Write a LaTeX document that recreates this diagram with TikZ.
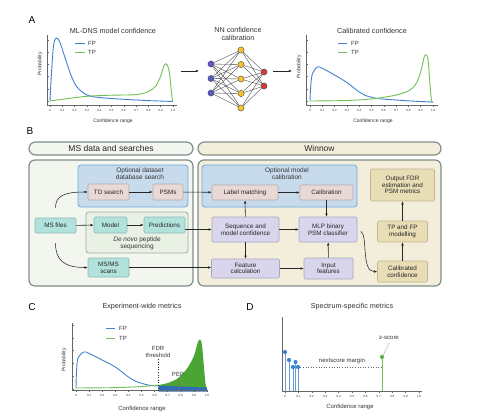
\documentclass[tikz,border=0pt]{standalone}
\usepackage{fontspec}
\setmainfont{Liberation Sans}
\usetikzlibrary{arrows.meta}
\definecolor{fpblue}{HTML}{3F82D0}
\definecolor{tpgreen}{HTML}{72C055}
\definecolor{fillgreen}{HTML}{4AA534}
\definecolor{bandblue}{HTML}{2D6CB8}
\definecolor{txt}{HTML}{333333}
\definecolor{axisc}{HTML}{666666}
\definecolor{contborder}{HTML}{7E8F88}
\definecolor{leftfill}{HTML}{F3F6EF}
\definecolor{rightfill}{HTML}{F3EEDB}
\definecolor{bluefill}{HTML}{C8DBEC}
\definecolor{blueborder}{HTML}{6FA8DC}
\definecolor{greenfill}{HTML}{E9F1E5}
\definecolor{greenborder}{HTML}{9AAE9F}
\definecolor{pinkfill}{HTML}{E8D8D6}
\definecolor{pinkborder}{HTML}{B5ABA9}
\definecolor{tealfill}{HTML}{B2E2DC}
\definecolor{tealborder}{HTML}{8DB9B3}
\definecolor{lavfill}{HTML}{D8D5EC}
\definecolor{lavborder}{HTML}{AAA7C2}
\definecolor{tanfill}{HTML}{E8DDB5}
\definecolor{tanborder}{HTML}{C2B68F}
\definecolor{nnblue}{HTML}{5A57C9}
\definecolor{nnyellow}{HTML}{F3C22E}
\definecolor{nnred}{HTML}{D23A3A}
\definecolor{pepred}{HTML}{B0503A}

\newcommand{\myxticks}[4]{%
\foreach \k/\lab in {0/0,1/0.1,2/0.2,3/0.3,4/0.4,5/0.5,6/0.6,7/0.7,8/0.8,9/0.9,10/1.0}{
  \draw[axisline] ({#1+#2*\k/10},#3) -- ({#1+#2*\k/10},#3+1.5);
  \node[ticklab] (#4\k) at ({#1+#2*\k/10},#3+5) {\lab};
}}

\begin{document}
\begin{tikzpicture}[x=1pt,y=-1pt,
  axisline/.style={draw=axisc, line width=0.6pt},
  ticklab/.style={font=\fontsize{3}{3}\selectfont, text=txt, inner sep=0pt},
  axlab/.style={font=\fontsize{5}{5}\selectfont, text=txt, inner sep=0pt},
  ptitle/.style={font=\fontsize{7.2}{8}\selectfont, text=txt, inner sep=0pt, align=center},
  legtxt/.style={font=\fontsize{6}{6}\selectfont, text=txt, inner sep=0pt, anchor=west},
  panel/.style={font=\fontsize{10}{10}\selectfont, text=black, inner sep=0pt},
  fpline/.style={draw=fpblue, line width=0.9pt},
  tpline/.style={draw=tpgreen, line width=0.9pt},
  arr/.style={-{Latex[length=3.2pt,width=2.6pt]}, line width=0.55pt, draw=black!85},
  basebox/.style={rectangle, rounded corners=1.2pt, line width=0.6pt, align=center,
     font=\fontsize{6.3}{6.6}\selectfont, text=black!85, inner sep=0pt},
  pinkbox/.style={basebox, fill=pinkfill, draw=pinkborder},
  tealbox/.style={basebox, fill=tealfill, draw=tealborder},
  lavbox/.style={basebox, fill=lavfill, draw=lavborder},
  tanbox/.style={basebox, fill=tanfill, draw=tanborder},
  container/.style={rectangle, rounded corners=6pt, line width=1.2pt, draw=contborder, inner sep=0pt},
  subcont/.style={rectangle, rounded corners=3pt, line width=0.8pt, inner sep=0pt},
  header/.style={container, rounded corners=6.5pt, font=\fontsize{8.5}{9}\selectfont, text=black!85},
  nn/.style={circle, minimum size=6.2pt, inner sep=0pt, line width=0.4pt, draw=black!70},
  nnedge/.style={draw=black!75, line width=0.35pt},
  lolli/.style={circle, minimum size=4.2pt, inner sep=0pt}
]
\useasboundingbox (0,0) rectangle (480,418);
\fill[white] (0,0) rectangle (480,418);

% ================= Panel A =================
\node[panel] (pA) at (32,20) {A};

% Plot A1
\node[ptitle] (tA1) at (113,31) {ML-DNS model confidence};
\draw[axisline] (47,35) -- (47,105) -- (177,105);
\foreach \yy in {40,52.2,64.4,76.6,88.8,101} \draw[axisline] (47,\yy) -- (48.5,\yy);
\myxticks{50}{123}{105}{aa}
\node[axlab] (xA1) at (113,121) {Confidence range};
\node[axlab, rotate=90] (yA1) at (40,64) {Probability};
\draw[fpline] plot[smooth, tension=0.55] coordinates {(50,101) (51.2,78) (53.5,46) (56.2,38) (59.8,42) (64.8,57) (70.9,75) (77,87) (86.9,95) (99.2,97.5) (123.8,99.3) (148.4,100.6) (173,101.5)};
\draw[tpline] plot[smooth, tension=0.55] coordinates {(50,101) (62.3,99.3) (86.9,96.3) (111.5,95.2) (136.1,94.6) (148.4,91.5) (155.8,86) (160.7,76) (164.4,65) (166.9,64.5) (169.3,72) (171.2,90) (172.5,101.5)};
\draw[fpline] (75,43) -- (85,43);
\node[legtxt] (lA1fp) at (88,43) {FP};
\draw[tpline] (75,52) -- (85,52);
\node[legtxt] (lA1tp) at (88,52) {TP};

% arrow to NN
\coordinate (a1s) at (181,71);
\coordinate (a1e) at (199,71);
\draw[arr] (a1s) -- (a1e);

% NN
\node[ptitle] (tNN) at (238,34) {NN confidence\\calibration};
\foreach \j/\yy in {1/64,2/78.5,3/93} \node[nn, fill=nnblue] (i\j) at (211,\yy) {};
\foreach \j/\yy in {1/50,2/64.5,3/79,4/93.5,5/108} \node[nn, fill=nnyellow] (h\j) at (241,\yy) {};
\foreach \j/\yy in {1/72,2/86} \node[nn, fill=nnred] (o\j) at (264,\yy) {};
\foreach \a in {1,2,3} \foreach \b in {1,...,5} \draw[nnedge] (i\a) -- (h\b);
\foreach \b in {1,...,5} \foreach \c in {1,2} \draw[nnedge] (h\b) -- (o\c);

\coordinate (a2s) at (273,71);
\coordinate (a2e) at (292,71);
\draw[arr] (a2s) -- (a2e);

% Plot A2
\node[ptitle] (tA2) at (372,31) {Calibrated confidence};
\draw[axisline] (306,35) -- (306,105) -- (438,105);
\foreach \yy in {40,52.2,64.4,76.6,88.8,101} \draw[axisline] (306,\yy) -- (307.5,\yy);
\myxticks{310}{123}{105}{ab}
\node[axlab] (xA2) at (373,121) {Confidence range};
\node[axlab, rotate=90] (yA2) at (299,67) {Probability};
\draw[fpline] plot[smooth, tension=0.55] coordinates {(310,101) (310.6,88) (312.3,74) (317.4,67) (322.3,68.3) (334.6,75) (346.9,82.5) (359.2,92) (365.4,95.5) (377.7,98.5) (396.1,100) (414,101.2) (433,102)};
\draw[tpline] plot[smooth, tension=0.55] coordinates {(310,101) (346.9,100.5) (371.5,99) (383.8,97.3) (396.1,95) (408.4,91) (415.8,84) (420.7,72) (424.2,57) (426.2,55) (428.1,60) (430,85) (431.6,101) (433,102)};
\draw[fpline] (338,43) -- (347,43);
\node[legtxt] (lA2fp) at (351,43) {FP};
\draw[tpline] (338,52) -- (347,52);
\node[legtxt] (lA2tp) at (351,52) {TP};

% ================= Panel B =================
\node[panel] (pB) at (30,131) {B};

\node[header, fill=leftfill, minimum width=164, minimum height=13] (hL) at (111,148.5) {MS data and searches};
\node[header, fill=rightfill, minimum width=243, minimum height=13] (hR) at (319.5,148.5) {Winnow};
\node[container, fill=leftfill, minimum width=164, minimum height=126] (cL) at (111,223) {};
\node[container, fill=rightfill, minimum width=243, minimum height=126] (cR) at (319.5,223) {};

\node[subcont, fill=bluefill, draw=blueborder, minimum width=110, minimum height=42] (sb1) at (133,186) {};
\node[ptitle, font=\fontsize{6.5}{7}\selectfont] (sb1t) at (140,174) {Optional dataset\\database search};
\node[subcont, fill=greenfill, draw=greenborder, minimum width=102, minimum height=41] (sg) at (137,232.5) {};
\node[ptitle, font=\fontsize{6.5}{7.4}\selectfont] (sgt) at (137,243.5) {\textit{De novo} peptide\\sequencing};
\node[subcont, fill=bluefill, draw=blueborder, minimum width=155, minimum height=42] (sb2) at (279.5,186) {};
\node[ptitle, font=\fontsize{6.5}{7}\selectfont] (sb2t) at (287,174) {Optional model\\calibration};

\node[pinkbox, minimum width=41, minimum height=16] (td) at (108.5,192) {TD search};
\node[pinkbox, minimum width=30, minimum height=16] (psms) at (168,192) {PSMs};
\node[tealbox, minimum width=33, minimum height=16] (model) at (110.5,225) {Model};
\node[tealbox, minimum width=41, minimum height=16] (pred) at (164.5,225) {Predictions};
\node[tealbox, minimum width=41, minimum height=15] (msf) at (55.5,225.5) {MS files};
\node[tealbox, minimum width=41, minimum height=19] (msms) at (108.5,267.5) {MS/MS\\scans};

\node[pinkbox, minimum width=66, minimum height=15] (lm) at (245,192.5) {Label matching};
\node[pinkbox, minimum width=53, minimum height=15] (cal) at (326.5,192.5) {Calibration};
\node[lavbox, minimum width=67, minimum height=25] (seq) at (245.5,229.5) {Sequence and\\model confidence};
\node[lavbox, minimum width=58, minimum height=25] (mlp) at (328,229.5) {MLP binary\\PSM classifier};
\node[lavbox, minimum width=68, minimum height=19] (fc) at (245.5,268.5) {Feature\\calculation};
\node[lavbox, minimum width=49, minimum height=21] (inf) at (328.5,268.5) {Input\\features};
\node[tanbox, minimum width=64, minimum height=32] (out) at (402.5,185) {Output FDR\\estimation and\\PSM metrics};
\node[tanbox, minimum width=50, minimum height=21] (tpfp) at (402.5,231.5) {TP and FP\\modelling};
\node[tanbox, minimum width=50, minimum height=21] (cc) at (402.5,271.5) {Calibrated\\confidence};

\draw[arr] (td) -- (psms);
\draw[arr] (psms) -- (lm);
\draw[arr] (msf) -- (model);
\draw[arr] (model) -- (pred);
\draw[arr] (pred.east |- seq.west) -- (seq.west);
\draw[arr] (msms.east) -- (msms.east -| fc.west);
\draw[arr, shorten <=10pt] (msf.north) .. controls (55.5,196) and (64,192) .. (td.west);
\draw[arr, shorten <=10pt] (msf.south) .. controls (55.5,260) and (64,267.5) .. (msms.west);
\draw[arr] (lm) -- (cal);
\draw[arr] (seq) -- (lm);
\draw[arr] (seq) -- (fc);
\draw[arr] (seq) -- (mlp);
\draw[arr] (cal.south) -- (cal.south |- mlp.north);
\draw[arr] (inf) -- (mlp);
\draw[arr] (fc.east) -- (fc.east -| inf.west);
\draw[arr, shorten <=4pt] (mlp.east) .. controls (368,235) and (361,272) .. (cc.west);
\draw[arr] (cc) -- (tpfp);
\draw[arr] (tpfp) -- (out);

% ================= Panel C =================
\node[panel] (pC) at (32,307) {C};
\node[ptitle] (tC) at (142,307) {Experiment-wide metrics};
\fill[fillgreen] (158.5,388.5) -- plot[smooth, tension=0.55] coordinates {(158.5,385) (167.7,383) (178.2,378) (187.4,368) (193.9,356) (197.6,343) (199.8,339.5) (201.8,344) (203.7,364) (205.5,384) (207,388)} -- cycle;
\fill[bandblue] (158.5,385.7) -- (207,387.6) -- (207,391.5) -- (158.5,391.5) -- cycle;
\draw[axisline] (72,323) -- (72,390) -- (208,390);
\foreach \yy in {325,337.8,350.6,363.4,376.2,389} \draw[axisline] (72,\yy) -- (73.5,\yy);
\myxticks{76}{131}{390.5}{ac}
\node[axlab, font=\fontsize{6}{6}\selectfont] (xC) at (142,409) {Confidence range};
\node[axlab, rotate=90] (yC) at (64,360) {Probability};
\draw[fpline] plot[smooth, tension=0.55] coordinates {(76,388) (76.5,372) (78,358) (83.9,352) (89.1,353.5) (102.2,360) (115.3,367) (128.4,377) (135,381) (148,385) (158.5,386)};
\draw[tpline] plot[smooth, tension=0.55] coordinates {(76,388) (115.3,387.6) (141.5,386.5) (158.5,385)};
\draw[fpline] (106,328) -- (115,328);
\node[legtxt] (lCfp) at (119,328) {FP};
\draw[tpline] (106,338) -- (115,338);
\node[legtxt] (lCtp) at (119,338) {TP};
\coordinate (fdrtop) at (158.5,359);
\coordinate (fdrbot) at (158.5,391);
\draw[black!85, line width=0.6pt, dotted] (fdrtop) -- (fdrbot);
\node[ptitle, font=\fontsize{6}{6.6}\selectfont] (fdr) at (158,352) {FDR\\threshold};
\node[ptitle, font=\fontsize{6}{6}\selectfont] (pep) at (178,374) {PEP};
\coordinate (peptop) at (178,379);
\coordinate (pepbot) at (178,390);
\draw[pepred, line width=0.6pt, dotted] (peptop) -- (pepbot);

% ================= Panel D =================
\node[panel] (pD) at (250,307) {D};
\node[ptitle] (tD) at (352,307) {Spectrum-specific metrics};
\draw[axisline] (282,317) -- (282,391) -- (422,391);
\myxticks{285}{134}{391}{ad}
\node[axlab, font=\fontsize{6}{6}\selectfont] (xD) at (350,407) {Confidence range};
\foreach \j/\xx/\yy in {1/285/352,2/289/360,3/293/367,4/295.5/362,5/298/367}{
  \node[lolli, fill=fpblue] (b\j) at (\xx,\yy) {};
  \coordinate (bb\j) at (\xx,391);
  \draw[draw=fpblue!80, line width=0.8pt] (b\j) -- (bb\j);
}
\node[lolli, fill=tpgreen!90!black] (g1) at (382,357) {};
\coordinate (gb1) at (382,391);
\draw[draw=tpgreen, line width=0.8pt] (g1) -- (gb1);
\draw[black!60, line width=0.6pt, dotted] (b5) -- (g1 |- b5);
\node[ptitle, font=\fontsize{6}{6}\selectfont] (nsm) at (342,361) {nextscore margin};
\node[ptitle, font=\fontsize{6}{6}\selectfont] (zs) at (389,338) {z-score};
\coordinate (zsl) at (389.5,342.5);
\draw[black!60, line width=0.5pt, dashed, dash pattern=on 1pt off 1pt] (g1) -- (zsl);
\end{tikzpicture}
\end{document}
